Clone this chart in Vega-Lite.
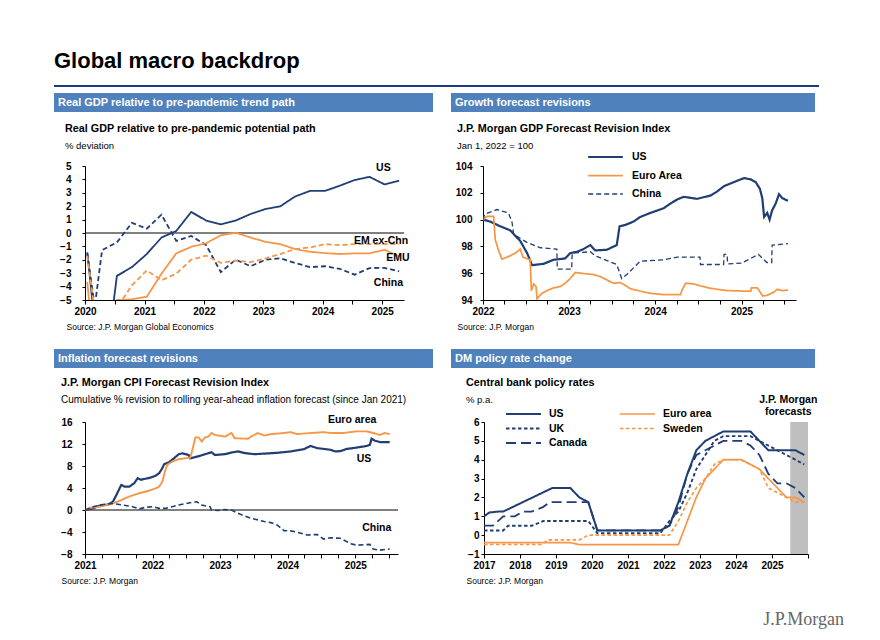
{
"$schema": "https://vega.github.io/schema/vega-lite/v6.json",
"background": "white",
"padding": {"left": 53, "top": 50, "right": 4, "bottom": 4},
"config": {
  "font": "Liberation Sans",
  "view": {"stroke": null},
  "axis": {"labelFontWeight": "bold", "labelFontSize": 10, "labelColor": "#000", "domainColor": "#000", "tickColor": "#000", "grid": false, "titleFontWeight": "normal", "titleFontSize": 8.5, "titleColor": "#000", "labelFlush": false, "labelOverlap": false},
  "title": {"anchor": "start", "frame": "group", "color": "#000", "fontSize": 10.8, "fontWeight": "bold", "subtitleFontSize": 9.5, "subtitleColor": "#000", "subtitlePadding": 7},
  "legend": {"labelColor": "#000"}
},
"title": {"text": "Global macro backdrop", "fontSize": 22, "offset": 12, "frame": "bounds"},
"datasets": {
  "gdp": [
    {"series":"US","date":"2020-01-15","value":-1.45},{"series":"US","date":"2020-04-15","value":-12},{"series":"US","date":"2020-07-15","value":-3.2},{"series":"US","date":"2020-10-15","value":-2.55},
    {"series":"US","date":"2021-01-15","value":-1.57},{"series":"US","date":"2021-04-15","value":-0.34},{"series":"US","date":"2021-07-15","value":0.15},{"series":"US","date":"2021-10-15","value":1.57},
    {"series":"US","date":"2022-01-15","value":0.93},{"series":"US","date":"2022-04-15","value":0.64},{"series":"US","date":"2022-07-15","value":0.93},{"series":"US","date":"2022-10-15","value":1.42},
    {"series":"US","date":"2023-01-15","value":1.79},{"series":"US","date":"2023-04-15","value":1.99},{"series":"US","date":"2023-07-15","value":2.72},{"series":"US","date":"2023-10-15","value":3.14},
    {"series":"US","date":"2024-01-15","value":3.14},{"series":"US","date":"2024-04-15","value":3.53},{"series":"US","date":"2024-07-15","value":3.95},{"series":"US","date":"2024-10-15","value":4.19},
    {"series":"US","date":"2025-01-15","value":3.63},{"series":"US","date":"2025-04-15","value":3.9},
    {"series":"China","date":"2020-01-15","value":-1.5},{"series":"China","date":"2020-03-01","value":-5.5},{"series":"China","date":"2020-04-15","value":-1.27},{"series":"China","date":"2020-07-15","value":-0.71},{"series":"China","date":"2020-10-15","value":0.76},
    {"series":"China","date":"2021-01-15","value":0.32},{"series":"China","date":"2021-04-15","value":1.37},{"series":"China","date":"2021-07-15","value":-0.59},{"series":"China","date":"2021-10-15","value":-0.22},
    {"series":"China","date":"2022-01-15","value":-0.91},{"series":"China","date":"2022-04-15","value":-2.92},{"series":"China","date":"2022-07-15","value":-1.99},{"series":"China","date":"2022-10-15","value":-2.48},
    {"series":"China","date":"2023-01-15","value":-1.99},{"series":"China","date":"2023-04-15","value":-1.89},{"series":"China","date":"2023-07-15","value":-2.23},{"series":"China","date":"2023-10-15","value":-2.55},
    {"series":"China","date":"2024-01-15","value":-2.48},{"series":"China","date":"2024-04-15","value":-2.67},{"series":"China","date":"2024-07-15","value":-3.11},{"series":"China","date":"2024-10-15","value":-2.62},
    {"series":"China","date":"2025-01-15","value":-2.6},{"series":"China","date":"2025-04-15","value":-2.87},
    {"series":"EMU","date":"2020-01-15","value":-3.65},{"series":"EMU","date":"2020-04-15","value":-15},{"series":"EMU","date":"2020-07-15","value":-5.0},{"series":"EMU","date":"2020-10-15","value":-4.95},
    {"series":"EMU","date":"2021-01-15","value":-4.75},{"series":"EMU","date":"2021-04-15","value":-3.04},{"series":"EMU","date":"2021-07-15","value":-1.52},{"series":"EMU","date":"2021-10-15","value":-1.03},
    {"series":"EMU","date":"2022-01-15","value":-0.76},{"series":"EMU","date":"2022-04-15","value":-0.17},{"series":"EMU","date":"2022-07-15","value":0.02},{"series":"EMU","date":"2022-10-15","value":-0.34},
    {"series":"EMU","date":"2023-01-15","value":-0.66},{"series":"EMU","date":"2023-04-15","value":-0.83},{"series":"EMU","date":"2023-07-15","value":-1.2},{"series":"EMU","date":"2023-10-15","value":-1.4},
    {"series":"EMU","date":"2024-01-15","value":-1.5},{"series":"EMU","date":"2024-04-15","value":-1.57},{"series":"EMU","date":"2024-07-15","value":-1.52},{"series":"EMU","date":"2024-10-15","value":-1.52},
    {"series":"EMU","date":"2025-01-15","value":-1.25},{"series":"EMU","date":"2025-04-15","value":-1.74},
    {"series":"EM ex-Chn","date":"2020-01-15","value":-1.7},{"series":"EM ex-Chn","date":"2020-04-15","value":-10},{"series":"EM ex-Chn","date":"2020-07-15","value":-5.6},{"series":"EM ex-Chn","date":"2020-10-15","value":-3.9},
    {"series":"EM ex-Chn","date":"2021-01-15","value":-2.79},{"series":"EM ex-Chn","date":"2021-04-15","value":-3.53},{"series":"EM ex-Chn","date":"2021-07-15","value":-3.04},{"series":"EM ex-Chn","date":"2021-10-15","value":-1.99},
    {"series":"EM ex-Chn","date":"2022-01-15","value":-1.69},{"series":"EM ex-Chn","date":"2022-04-15","value":-2.23},{"series":"EM ex-Chn","date":"2022-07-15","value":-2.06},{"series":"EM ex-Chn","date":"2022-10-15","value":-2.18},
    {"series":"EM ex-Chn","date":"2023-01-15","value":-1.89},{"series":"EM ex-Chn","date":"2023-04-15","value":-1.57},{"series":"EM ex-Chn","date":"2023-07-15","value":-1.2},{"series":"EM ex-Chn","date":"2023-10-15","value":-1.08},
    {"series":"EM ex-Chn","date":"2024-01-15","value":-0.83},{"series":"EM ex-Chn","date":"2024-04-15","value":-0.91},{"series":"EM ex-Chn","date":"2024-07-15","value":-0.83},{"series":"EM ex-Chn","date":"2024-10-15","value":-0.83},
    {"series":"EM ex-Chn","date":"2025-01-15","value":-0.83},{"series":"EM ex-Chn","date":"2025-04-15","value":-0.83}
  ],
  "gdpLab": [
    {"label":"US","date":"2025-01-08","value":4.87},
    {"label":"EM ex-Chn","date":"2024-12-25","value":-0.57},
    {"label":"EMU","date":"2025-04-08","value":-1.9},
    {"label":"China","date":"2025-02-08","value":-3.74}
  ],
  "growth": [
    {"series":"US","date":"2022-01-01","value":100.0},{"series":"US","date":"2022-02-01","value":99.85},{"series":"US","date":"2022-03-15","value":99.5},{"series":"US","date":"2022-04-26","value":99.2},
    {"series":"US","date":"2022-06-08","value":98.4},{"series":"US","date":"2022-07-07","value":97.5},{"series":"US","date":"2022-07-28","value":96.6},{"series":"US","date":"2022-09-15","value":96.7},
    {"series":"US","date":"2022-10-27","value":97.0},{"series":"US","date":"2022-12-15","value":97.1},{"series":"US","date":"2023-01-06","value":97.5},{"series":"US","date":"2023-02-03","value":97.6},
    {"series":"US","date":"2023-03-03","value":97.8},{"series":"US","date":"2023-04-01","value":98.1},{"series":"US","date":"2023-04-22","value":97.7},{"series":"US","date":"2023-06-10","value":97.75},
    {"series":"US","date":"2023-07-22","value":98.1},{"series":"US","date":"2023-08-03","value":99.5},{"series":"US","date":"2023-08-27","value":99.6},{"series":"US","date":"2023-10-01","value":99.85},
    {"series":"US","date":"2023-10-30","value":100.2},{"series":"US","date":"2023-12-12","value":100.5},{"series":"US","date":"2024-02-06","value":100.85},{"series":"US","date":"2024-03-06","value":101.2},
    {"series":"US","date":"2024-04-03","value":101.5},{"series":"US","date":"2024-05-01","value":101.7},{"series":"US","date":"2024-06-27","value":101.55},{"series":"US","date":"2024-08-23","value":101.8},
    {"series":"US","date":"2024-09-20","value":102.1},{"series":"US","date":"2024-10-19","value":102.5},{"series":"US","date":"2024-12-14","value":102.9},{"series":"US","date":"2025-01-12","value":103.1},
    {"series":"US","date":"2025-02-09","value":103.0},{"series":"US","date":"2025-03-02","value":102.8},{"series":"US","date":"2025-03-20","value":102.3},{"series":"US","date":"2025-03-30","value":101.6},
    {"series":"US","date":"2025-04-07","value":100.2},{"series":"US","date":"2025-04-20","value":100.5},{"series":"US","date":"2025-04-30","value":100.0},{"series":"US","date":"2025-05-11","value":100.7},
    {"series":"US","date":"2025-05-26","value":101.2},{"series":"US","date":"2025-06-09","value":101.9},{"series":"US","date":"2025-06-23","value":101.6},{"series":"US","date":"2025-07-17","value":101.4},
    {"series":"Euro Area","date":"2022-01-01","value":100.0},{"series":"Euro Area","date":"2022-01-18","value":100.25},{"series":"Euro Area","date":"2022-02-15","value":100.25},{"series":"Euro Area","date":"2022-02-22","value":98.5},
    {"series":"Euro Area","date":"2022-03-08","value":97.7},{"series":"Euro Area","date":"2022-03-22","value":97.05},{"series":"Euro Area","date":"2022-04-26","value":97.3},{"series":"Euro Area","date":"2022-05-18","value":97.5},
    {"series":"Euro Area","date":"2022-06-08","value":97.8},{"series":"Euro Area","date":"2022-06-19","value":97.2},{"series":"Euro Area","date":"2022-07-20","value":97.0},{"series":"Euro Area","date":"2022-07-25","value":94.7},
    {"series":"Euro Area","date":"2022-08-04","value":95.2},{"series":"Euro Area","date":"2022-08-14","value":95.0},{"series":"Euro Area","date":"2022-08-18","value":94.1},{"series":"Euro Area","date":"2022-09-08","value":94.5},
    {"series":"Euro Area","date":"2022-09-29","value":94.7},{"series":"Euro Area","date":"2022-10-27","value":94.9},{"series":"Euro Area","date":"2022-11-24","value":95.0},{"series":"Euro Area","date":"2022-12-15","value":95.25},
    {"series":"Euro Area","date":"2023-01-06","value":95.6},{"series":"Euro Area","date":"2023-01-27","value":96.05},{"series":"Euro Area","date":"2023-03-17","value":95.95},{"series":"Euro Area","date":"2023-04-15","value":95.9},
    {"series":"Euro Area","date":"2023-05-13","value":95.75},{"series":"Euro Area","date":"2023-06-10","value":95.5},{"series":"Euro Area","date":"2023-07-08","value":95.25},{"series":"Euro Area","date":"2023-08-06","value":95.3},
    {"series":"Euro Area","date":"2023-08-27","value":95.1},{"series":"Euro Area","date":"2023-09-17","value":94.85},{"series":"Euro Area","date":"2023-11-13","value":94.6},{"series":"Euro Area","date":"2023-12-12","value":94.5},
    {"series":"Euro Area","date":"2024-02-06","value":94.4},{"series":"Euro Area","date":"2024-04-17","value":94.4},{"series":"Euro Area","date":"2024-04-24","value":94.75},{"series":"Euro Area","date":"2024-05-09","value":95.25},
    {"series":"Euro Area","date":"2024-06-13","value":95.2},{"series":"Euro Area","date":"2024-07-11","value":95.05},{"series":"Euro Area","date":"2024-08-23","value":94.87},{"series":"Euro Area","date":"2024-11-02","value":94.7},
    {"series":"Euro Area","date":"2025-02-09","value":94.65},{"series":"Euro Area","date":"2025-02-12","value":94.9},{"series":"Euro Area","date":"2025-03-09","value":94.9},{"series":"Euro Area","date":"2025-04-01","value":94.3},
    {"series":"Euro Area","date":"2025-04-20","value":94.35},{"series":"Euro Area","date":"2025-05-19","value":94.6},{"series":"Euro Area","date":"2025-06-02","value":94.8},{"series":"Euro Area","date":"2025-06-23","value":94.7},
    {"series":"Euro Area","date":"2025-07-17","value":94.75},
    {"series":"China","date":"2022-01-01","value":100.0},{"series":"China","date":"2022-01-08","value":100.4},{"series":"China","date":"2022-03-01","value":100.75},{"series":"China","date":"2022-04-19","value":100.5},
    {"series":"China","date":"2022-05-04","value":99.8},{"series":"China","date":"2022-05-11","value":98.9},{"series":"China","date":"2022-07-06","value":98.3},{"series":"China","date":"2022-09-01","value":97.9},
    {"series":"China","date":"2022-11-10","value":97.8},{"series":"China","date":"2022-11-12","value":96.3},{"series":"China","date":"2023-01-12","value":96.3},{"series":"China","date":"2023-01-14","value":97.5},
    {"series":"China","date":"2023-04-01","value":97.6},{"series":"China","date":"2023-04-22","value":97.3},{"series":"China","date":"2023-06-17","value":96.9},{"series":"China","date":"2023-07-22","value":96.65},
    {"series":"China","date":"2023-08-12","value":95.6},{"series":"China","date":"2023-09-03","value":95.9},{"series":"China","date":"2023-10-01","value":96.4},{"series":"China","date":"2023-10-30","value":96.9},
    {"series":"China","date":"2024-02-06","value":97.0},{"series":"China","date":"2024-04-03","value":97.2},{"series":"China","date":"2024-07-09","value":97.2},{"series":"China","date":"2024-07-11","value":96.65},
    {"series":"China","date":"2024-10-17","value":96.65},{"series":"China","date":"2024-10-19","value":97.4},{"series":"China","date":"2024-11-01","value":97.4},{"series":"China","date":"2024-11-03","value":96.7},
    {"series":"China","date":"2025-01-01","value":96.75},{"series":"China","date":"2025-03-14","value":97.4},{"series":"China","date":"2025-04-18","value":96.8},{"series":"China","date":"2025-05-09","value":96.8},
    {"series":"China","date":"2025-05-11","value":98.1},{"series":"China","date":"2025-07-17","value":98.2}
  ],
  "cpi": [
    {"series":"US","date":"2021-01-01","value":0},{"series":"US","date":"2021-02-14","value":0.3},{"series":"US","date":"2021-03-21","value":0.8},{"series":"US","date":"2021-05-05","value":1.0},
    {"series":"US","date":"2021-06-01","value":1.5},{"series":"US","date":"2021-06-19","value":2.7},{"series":"US","date":"2021-07-16","value":4.55},{"series":"US","date":"2021-08-03","value":4.25},
    {"series":"US","date":"2021-08-29","value":4.25},{"series":"US","date":"2021-09-25","value":4.9},{"series":"US","date":"2021-10-13","value":5.8},{"series":"US","date":"2021-10-30","value":5.5},
    {"series":"US","date":"2021-12-23","value":5.9},{"series":"US","date":"2022-01-19","value":6.25},{"series":"US","date":"2022-02-06","value":6.7},{"series":"US","date":"2022-02-23","value":7.6},
    {"series":"US","date":"2022-03-04","value":8.3},{"series":"US","date":"2022-03-31","value":8.7},{"series":"US","date":"2022-04-27","value":9.4},{"series":"US","date":"2022-05-23","value":10.15},
    {"series":"US","date":"2022-06-10","value":10.3},{"series":"US","date":"2022-07-15","value":10.0},{"series":"US","date":"2022-07-24","value":9.4},{"series":"US","date":"2022-08-11","value":9.55},
    {"series":"US","date":"2022-09-15","value":9.85},{"series":"US","date":"2022-10-12","value":10.15},{"series":"US","date":"2022-11-16","value":10.5},{"series":"US","date":"2022-12-04","value":10.0},
    {"series":"US","date":"2023-01-27","value":10.15},{"series":"US","date":"2023-03-04","value":10.45},{"series":"US","date":"2023-04-08","value":10.65},{"series":"US","date":"2023-05-14","value":10.35},
    {"series":"US","date":"2023-07-06","value":10.15},{"series":"US","date":"2023-08-28","value":10.25},{"series":"US","date":"2023-11-07","value":10.4},{"series":"US","date":"2024-01-18","value":10.65},
    {"series":"US","date":"2024-03-29","value":11.05},{"series":"US","date":"2024-05-04","value":11.65},{"series":"US","date":"2024-06-09","value":11.25},{"series":"US","date":"2024-08-19","value":10.95},
    {"series":"US","date":"2024-09-15","value":10.65},{"series":"US","date":"2024-10-12","value":10.7},{"series":"US","date":"2024-11-16","value":11.1},{"series":"US","date":"2025-01-09","value":11.35},
    {"series":"US","date":"2025-03-04","value":11.65},{"series":"US","date":"2025-03-21","value":11.85},{"series":"US","date":"2025-03-30","value":12.95},{"series":"US","date":"2025-04-17","value":12.6},
    {"series":"US","date":"2025-05-14","value":12.35},{"series":"US","date":"2025-07-06","value":12.35},
    {"series":"Euro area","date":"2021-01-01","value":0},{"series":"Euro area","date":"2021-01-27","value":0.4},{"series":"Euro area","date":"2021-03-21","value":0.6},{"series":"Euro area","date":"2021-05-14","value":1.0},
    {"series":"Euro area","date":"2021-07-06","value":1.65},{"series":"Euro area","date":"2021-08-28","value":2.45},{"series":"Euro area","date":"2021-10-21","value":3.05},{"series":"Euro area","date":"2021-12-13","value":3.5},
    {"series":"Euro area","date":"2022-01-19","value":3.95},{"series":"Euro area","date":"2022-02-06","value":4.25},{"series":"Euro area","date":"2022-02-23","value":5.15},{"series":"Euro area","date":"2022-03-09","value":7.0},
    {"series":"Euro area","date":"2022-03-21","value":8.2},{"series":"Euro area","date":"2022-04-17","value":8.8},{"series":"Euro area","date":"2022-05-23","value":9.25},{"series":"Euro area","date":"2022-06-28","value":9.4},
    {"series":"Euro area","date":"2022-07-24","value":9.55},{"series":"Euro area","date":"2022-08-02","value":10.6},{"series":"Euro area","date":"2022-08-11","value":11.85},{"series":"Euro area","date":"2022-08-20","value":13.2},
    {"series":"Euro area","date":"2022-09-07","value":13.2},{"series":"Euro area","date":"2022-09-24","value":12.45},{"series":"Euro area","date":"2022-10-12","value":13.2},{"series":"Euro area","date":"2022-10-30","value":13.35},
    {"series":"Euro area","date":"2022-11-16","value":14.0},{"series":"Euro area","date":"2022-12-04","value":13.65},{"series":"Euro area","date":"2023-01-27","value":13.35},{"series":"Euro area","date":"2023-03-04","value":14.0},
    {"series":"Euro area","date":"2023-03-21","value":13.05},{"series":"Euro area","date":"2023-06-01","value":12.95},{"series":"Euro area","date":"2023-06-18","value":13.35},{"series":"Euro area","date":"2023-07-24","value":14.0},
    {"series":"Euro area","date":"2023-08-28","value":13.55},{"series":"Euro area","date":"2023-10-03","value":13.8},{"series":"Euro area","date":"2023-12-13","value":14.0},{"series":"Euro area","date":"2024-01-18","value":14.15},
    {"series":"Euro area","date":"2024-02-22","value":13.8},{"series":"Euro area","date":"2024-05-04","value":14.0},{"series":"Euro area","date":"2024-07-14","value":14.15},{"series":"Euro area","date":"2024-08-19","value":14.0},
    {"series":"Euro area","date":"2024-10-30","value":14.0},{"series":"Euro area","date":"2025-01-09","value":14.3},{"series":"Euro area","date":"2025-03-04","value":14.3},{"series":"Euro area","date":"2025-04-08","value":14.0},
    {"series":"Euro area","date":"2025-05-14","value":13.65},{"series":"Euro area","date":"2025-06-09","value":14.0},{"series":"Euro area","date":"2025-07-06","value":13.8},
    {"series":"China","date":"2021-01-01","value":0},{"series":"China","date":"2021-02-14","value":0.6},{"series":"China","date":"2021-04-08","value":1.0},{"series":"China","date":"2021-06-01","value":1.2},
    {"series":"China","date":"2021-07-24","value":0.9},{"series":"China","date":"2021-09-16","value":0.6},{"series":"China","date":"2021-10-21","value":0.2},{"series":"China","date":"2021-11-26","value":0.5},
    {"series":"China","date":"2022-01-01","value":0.6},{"series":"China","date":"2022-02-06","value":0.3},{"series":"China","date":"2022-03-13","value":0.3},{"series":"China","date":"2022-04-17","value":0.6},
    {"series":"China","date":"2022-05-23","value":0.9},{"series":"China","date":"2022-06-28","value":1.15},{"series":"China","date":"2022-08-02","value":1.4},{"series":"China","date":"2022-08-29","value":1.5},
    {"series":"China","date":"2022-09-24","value":0.9},{"series":"China","date":"2022-11-08","value":0.6},{"series":"China","date":"2022-11-16","value":0.0},{"series":"China","date":"2022-12-22","value":-0.1},
    {"series":"China","date":"2023-01-27","value":0.1},{"series":"China","date":"2023-03-04","value":0.0},{"series":"China","date":"2023-04-08","value":-0.6},{"series":"China","date":"2023-05-14","value":-1.1},
    {"series":"China","date":"2023-06-18","value":-1.5},{"series":"China","date":"2023-07-24","value":-1.8},{"series":"China","date":"2023-08-28","value":-2.1},{"series":"China","date":"2023-10-03","value":-2.3},
    {"series":"China","date":"2023-11-07","value":-2.75},{"series":"China","date":"2023-12-13","value":-3.75},{"series":"China","date":"2024-01-18","value":-3.8},{"series":"China","date":"2024-02-22","value":-4.05},
    {"series":"China","date":"2024-04-16","value":-4.55},{"series":"China","date":"2024-06-09","value":-4.45},{"series":"China","date":"2024-07-14","value":-5.3},{"series":"China","date":"2024-08-19","value":-5.05},
    {"series":"China","date":"2024-10-12","value":-5.15},{"series":"China","date":"2024-10-30","value":-5.45},{"series":"China","date":"2024-12-05","value":-6.1},{"series":"China","date":"2025-01-09","value":-6.4},
    {"series":"China","date":"2025-03-21","value":-6.25},{"series":"China","date":"2025-04-08","value":-7.1},{"series":"China","date":"2025-05-14","value":-7.3},{"series":"China","date":"2025-06-18","value":-7.15},
    {"series":"China","date":"2025-07-06","value":-7.1}
  ],
  "cpiLab": [
    {"label":"Euro area","date":"2024-12-15","value":16.35},
    {"label":"US","date":"2025-02-17","value":9.2},
    {"label":"China","date":"2025-04-27","value":-3.24}
  ],
  "rates": [
    {"series":"US","date":"2017-01-01","value":1.0},{"series":"US","date":"2017-02-25","value":1.2},{"series":"US","date":"2017-05-27","value":1.25},{"series":"US","date":"2017-07-15","value":1.25},
    {"series":"US","date":"2018-11-25","value":2.5},{"series":"US","date":"2019-05-27","value":2.5},{"series":"US","date":"2019-08-26","value":2.0},{"series":"US","date":"2019-11-25","value":1.75},
    {"series":"US","date":"2020-02-25","value":0.25},{"series":"US","date":"2021-11-25","value":0.25},{"series":"US","date":"2022-02-25","value":0.5},{"series":"US","date":"2022-05-27","value":1.75},
    {"series":"US","date":"2022-08-26","value":3.25},{"series":"US","date":"2022-11-25","value":4.5},{"series":"US","date":"2023-02-25","value":5.0},{"series":"US","date":"2023-05-27","value":5.25},
    {"series":"US","date":"2023-08-26","value":5.5},{"series":"US","date":"2024-05-27","value":5.5},{"series":"US","date":"2024-08-26","value":5.0},{"series":"US","date":"2024-11-25","value":4.5},
    {"series":"US","date":"2025-08-26","value":4.5},{"series":"US","date":"2025-11-25","value":4.25},
    {"series":"UK","date":"2017-01-01","value":0.25},{"series":"UK","date":"2017-07-15","value":0.25},{"series":"UK","date":"2017-09-01","value":0.5},{"series":"UK","date":"2018-05-01","value":0.5},
    {"series":"UK","date":"2018-08-26","value":0.75},{"series":"UK","date":"2019-11-25","value":0.75},{"series":"UK","date":"2020-02-25","value":0.1},{"series":"UK","date":"2021-11-25","value":0.1},
    {"series":"UK","date":"2022-02-25","value":0.75},{"series":"UK","date":"2022-05-27","value":1.25},{"series":"UK","date":"2022-08-26","value":2.25},{"series":"UK","date":"2022-11-25","value":3.5},
    {"series":"UK","date":"2023-02-25","value":4.25},{"series":"UK","date":"2023-05-27","value":5.0},{"series":"UK","date":"2023-08-26","value":5.25},{"series":"UK","date":"2024-05-27","value":5.25},
    {"series":"UK","date":"2024-08-26","value":5.0},{"series":"UK","date":"2024-11-25","value":4.75},{"series":"UK","date":"2025-02-25","value":4.5},{"series":"UK","date":"2025-05-27","value":4.25},
    {"series":"UK","date":"2025-08-26","value":4.0},{"series":"UK","date":"2025-11-25","value":3.75},
    {"series":"Canada","date":"2017-01-01","value":0.5},{"series":"Canada","date":"2017-04-01","value":0.5},{"series":"Canada","date":"2017-07-15","value":1.0},{"series":"Canada","date":"2017-11-10","value":1.0},
    {"series":"Canada","date":"2018-02-01","value":1.25},{"series":"Canada","date":"2018-05-01","value":1.25},{"series":"Canada","date":"2018-08-26","value":1.5},{"series":"Canada","date":"2018-11-01","value":1.75},
    {"series":"Canada","date":"2019-11-25","value":1.75},{"series":"Canada","date":"2020-02-25","value":0.25},{"series":"Canada","date":"2021-11-25","value":0.25},{"series":"Canada","date":"2022-02-25","value":0.5},
    {"series":"Canada","date":"2022-05-27","value":1.5},{"series":"Canada","date":"2022-08-26","value":3.25},{"series":"Canada","date":"2022-11-25","value":4.25},{"series":"Canada","date":"2023-02-25","value":4.5},
    {"series":"Canada","date":"2023-05-27","value":4.75},{"series":"Canada","date":"2023-08-26","value":5.0},{"series":"Canada","date":"2024-02-25","value":5.0},{"series":"Canada","date":"2024-05-27","value":4.75},
    {"series":"Canada","date":"2024-08-26","value":4.25},{"series":"Canada","date":"2024-11-25","value":3.25},{"series":"Canada","date":"2025-02-25","value":2.75},{"series":"Canada","date":"2025-05-27","value":2.75},
    {"series":"Canada","date":"2025-08-26","value":2.5},{"series":"Canada","date":"2025-11-25","value":2.0},
    {"series":"Euro area","date":"2017-01-01","value":-0.4},{"series":"Euro area","date":"2019-05-27","value":-0.4},{"series":"Euro area","date":"2019-08-26","value":-0.5},{"series":"Euro area","date":"2022-05-27","value":-0.5},
    {"series":"Euro area","date":"2022-08-26","value":0.75},{"series":"Euro area","date":"2022-11-25","value":2.0},{"series":"Euro area","date":"2023-02-25","value":3.0},{"series":"Euro area","date":"2023-05-27","value":3.5},
    {"series":"Euro area","date":"2023-08-26","value":4.0},{"series":"Euro area","date":"2024-02-25","value":4.0},{"series":"Euro area","date":"2024-05-27","value":3.75},{"series":"Euro area","date":"2024-08-26","value":3.5},
    {"series":"Euro area","date":"2024-11-25","value":3.0},{"series":"Euro area","date":"2025-02-25","value":2.5},{"series":"Euro area","date":"2025-05-27","value":2.0},{"series":"Euro area","date":"2025-08-26","value":2.0},
    {"series":"Euro area","date":"2025-11-25","value":1.75},
    {"series":"Sweden","date":"2017-01-01","value":-0.5},{"series":"Sweden","date":"2018-08-01","value":-0.5},{"series":"Sweden","date":"2018-10-15","value":-0.25},{"series":"Sweden","date":"2019-08-26","value":-0.25},
    {"series":"Sweden","date":"2019-11-25","value":0.0},{"series":"Sweden","date":"2022-02-25","value":0.0},{"series":"Sweden","date":"2022-05-27","value":0.75},{"series":"Sweden","date":"2022-08-26","value":1.75},
    {"series":"Sweden","date":"2022-11-25","value":2.5},{"series":"Sweden","date":"2023-02-25","value":3.0},{"series":"Sweden","date":"2023-05-27","value":3.75},{"series":"Sweden","date":"2023-08-26","value":4.0},
    {"series":"Sweden","date":"2024-02-25","value":4.0},{"series":"Sweden","date":"2024-05-27","value":3.75},{"series":"Sweden","date":"2024-08-26","value":3.5},{"series":"Sweden","date":"2024-11-25","value":2.5},
    {"series":"Sweden","date":"2025-02-25","value":2.25},{"series":"Sweden","date":"2025-05-27","value":2.0},{"series":"Sweden","date":"2025-08-26","value":1.75},{"series":"Sweden","date":"2025-11-25","value":1.75}
  ],
  "band": [{"date":"2025-07-05","end":"2026-01-01"}],
  "fcLab": [{"label":["J.P. Morgan","forecasts"],"date":"2025-06-15","value":6}]
},
"spacing": 6,
"resolve": {"scale": {"color": "independent", "strokeDash": "independent", "strokeWidth": "independent"}, "legend": {"color": "independent", "strokeDash": "independent", "strokeWidth": "independent"}},
"vconcat": [
  {"width": 734, "height": 2, "data": {"values": [{}]},
   "mark": {"type": "rect", "color": "#1f3a85"},
   "encoding": {"x": {"datum": 0, "type": "quantitative", "scale": {"domain": [0.040523, 1], "nice": false, "zero": false}, "axis": null}, "x2": {"datum": 1}}},
  {"spacing": 18,
   "resolve": {"scale": {"color": "independent", "strokeDash": "independent", "strokeWidth": "independent"}, "legend": {"color": "independent", "strokeDash": "independent", "strokeWidth": "independent"}},
   "vconcat": [
    {"spacing": 10,
     "resolve": {"scale": {"color": "independent", "strokeDash": "independent", "strokeWidth": "independent"}, "legend": {"color": "independent", "strokeDash": "independent", "strokeWidth": "independent"}},
     "vconcat": [
      {"spacing": 17, "hconcat": [
        {"width": 348, "height": 19, "data": {"values": [{}]},
         "title": {"text": "Real GDP relative to pre-pandemic trend path", "color": "white", "fontSize": 11, "fontWeight": "bold", "anchor": "start", "dx": -27, "offset": -15},
         "mark": {"type": "rect", "color": "#4f81bd"},
         "encoding": {"x": {"datum": 0, "type": "quantitative", "scale": {"domain": [0.081794, 1], "nice": false, "zero": false}, "axis": null}, "x2": {"datum": 1}}},
        {"width": 329, "height": 19, "data": {"values": [{}]},
         "title": {"text": "Growth forecast revisions", "color": "white", "fontSize": 11, "fontWeight": "bold", "anchor": "start", "dx": -31, "offset": -15},
         "mark": {"type": "rect", "color": "#4f81bd"},
         "encoding": {"x": {"datum": 0, "type": "quantitative", "scale": {"domain": [0.096154, 1], "nice": false, "zero": false}, "axis": null}, "x2": {"datum": 1}}}
      ]},
      {"spacing": 45,
       "resolve": {"scale": {"color": "independent", "strokeDash": "independent", "strokeWidth": "independent"}, "legend": {"color": "independent", "strokeDash": "independent", "strokeWidth": "independent"}},
       "hconcat": [
        {"width": 319, "height": 134,
         "title": {"text": "Real GDP relative to pre-pandemic potential path", "subtitle": "% deviation", "dx": -20, "offset": 11},
         "layer": [
           {"data": {"values": [{}]}, "mark": {"type": "rule", "color": "#000", "strokeWidth": 1},
            "encoding": {"y": {"datum": 0, "type": "quantitative", "scale": {"domain": [-5, 5]},
                    "axis": {"values": [-5,-4,-3,-2,-1,0,1,2,3,4,5], "tickSize": 3, "labelPadding": 11, "labelOverlap": false, "labelFlush": false, "title": null}}}},
           {"data": {"name": "gdp"}, "mark": {"type": "line", "clip": true, "strokeWidth": 1.8},
            "encoding": {
              "x": {"field": "date", "type": "temporal", "scale": {"domain": ["2020-01-01", "2025-05-15"]},
                    "axis": {"values": [{"year":2020,"month":1,"date":1},{"year":2020,"month":7,"date":1},{"year":2021,"month":1,"date":1},{"year":2021,"month":7,"date":1},{"year":2022,"month":1,"date":1},{"year":2022,"month":7,"date":1},{"year":2023,"month":1,"date":1},{"year":2023,"month":7,"date":1},{"year":2024,"month":1,"date":1},{"year":2024,"month":7,"date":1},{"year":2025,"month":1,"date":1}],
                             "labelExpr": "month(datum.value) == 0 ? timeFormat(datum.value, '%Y') : ''", "tickSize": 4, "labelPadding": 2, "labelOverlap": false, "labelFlush": false,
                             "title": "Source: J.P. Morgan Global Economics", "titleX": -19, "titleAlign": "left", "titleAnchor": "start", "titlePadding": 6}},
              "y": {"field": "value", "type": "quantitative", "scale": {"domain": [-5, 5]},
                    "axis": {"values": [-5,-4,-3,-2,-1,0,1,2,3,4,5], "tickSize": 3, "labelPadding": 11, "labelOverlap": false, "labelFlush": false, "title": null}},
              "color": {"field": "series", "type": "nominal", "scale": {"domain": ["US","China","EMU","EM ex-Chn"], "range": ["#203e73","#203e73","#f79646","#f79646"]}, "legend": null},
              "strokeDash": {"field": "series", "type": "nominal", "scale": {"domain": ["US","China","EMU","EM ex-Chn"], "range": [[1,0],[5,3],[1,0],[5,3]]}, "legend": null}
            }},
           {"data": {"name": "gdpLab"}, "mark": {"type": "text", "fontWeight": "bold", "fontSize": 10.5, "color": "#000"},
            "encoding": {
              "x": {"field": "date", "type": "temporal", "scale": {"domain": ["2020-01-01", "2025-05-15"]},
                    "axis": {"values": [{"year":2020,"month":1,"date":1},{"year":2020,"month":7,"date":1},{"year":2021,"month":1,"date":1},{"year":2021,"month":7,"date":1},{"year":2022,"month":1,"date":1},{"year":2022,"month":7,"date":1},{"year":2023,"month":1,"date":1},{"year":2023,"month":7,"date":1},{"year":2024,"month":1,"date":1},{"year":2024,"month":7,"date":1},{"year":2025,"month":1,"date":1}],
                             "labelExpr": "month(datum.value) == 0 ? timeFormat(datum.value, '%Y') : ''", "tickSize": 4, "labelPadding": 2, "labelOverlap": false, "labelFlush": false,
                             "title": "Source: J.P. Morgan Global Economics", "titleX": -19, "titleAlign": "left", "titleAnchor": "start", "titlePadding": 6}},
              "y": {"field": "value", "type": "quantitative", "scale": {"domain": [-5, 5]},
                    "axis": {"values": [-5,-4,-3,-2,-1,0,1,2,3,4,5], "tickSize": 3, "labelPadding": 11, "labelOverlap": false, "labelFlush": false, "title": null}},
              "text": {"field": "label"}
            }}
         ]},
        {"width": 313, "height": 134,
         "title": {"text": "J.P. Morgan GDP Forecast Revision Index", "subtitle": "Jan 1, 2022 = 100", "dx": -26, "offset": 0},
         "data": {"name": "growth"},
         "mark": {"type": "line", "clip": true},
         "encoding": {
           "x": {"field": "date", "type": "temporal", "scale": {"domain": ["2022-01-01", "2025-08-20"]},
                 "axis": {"values": [{"year":2022,"month":1,"date":1},{"year":2022,"month":4,"date":1},{"year":2022,"month":7,"date":1},{"year":2022,"month":10,"date":1},{"year":2023,"month":1,"date":1},{"year":2023,"month":4,"date":1},{"year":2023,"month":7,"date":1},{"year":2023,"month":10,"date":1},{"year":2024,"month":1,"date":1},{"year":2024,"month":4,"date":1},{"year":2024,"month":7,"date":1},{"year":2024,"month":10,"date":1},{"year":2025,"month":1,"date":1},{"year":2025,"month":4,"date":1},{"year":2025,"month":7,"date":1}],
                          "labelExpr": "month(datum.value) == 0 ? timeFormat(datum.value, '%Y') : ''", "tickSize": 4, "labelPadding": 2, "labelOverlap": false, "labelFlush": false,
                          "title": "Source: J.P. Morgan", "titleX": -26, "titleAlign": "left", "titleAnchor": "start", "titlePadding": 6}},
           "y": {"field": "value", "type": "quantitative", "scale": {"domain": [94, 104]},
                 "axis": {"values": [94,96,98,100,102,104], "tickSize": 3, "labelPadding": 8, "labelOverlap": false, "labelFlush": false, "title": null}},
           "color": {"field": "series", "type": "nominal", "scale": {"domain": ["US","Euro Area","China"], "range": ["#203e73","#f79646","#203e73"]},
                     "legend": {"orient": "none", "legendX": 104, "legendY": -16, "title": null, "symbolType": "stroke", "symbolSize": 1200, "clipHeight": 14, "rowPadding": 4.5, "labelFontSize": 10.5, "labelFontWeight": "bold", "labelOffset": 8, "padding": 0}},
           "strokeDash": {"field": "series", "type": "nominal", "scale": {"domain": ["US","Euro Area","China"], "range": [[1,0],[1,0],[5,3]]},
                     "legend": {"orient": "none", "legendX": 104, "legendY": -16, "title": null, "symbolType": "stroke", "symbolSize": 1200, "clipHeight": 14, "rowPadding": 4.5, "labelFontSize": 10.5, "labelFontWeight": "bold", "labelOffset": 8, "padding": 0}},
           "strokeWidth": {"field": "series", "type": "nominal", "scale": {"domain": ["US","Euro Area","China"], "range": [2.2, 1.3, 1.8]},
                     "legend": {"orient": "none", "legendX": 104, "legendY": -16, "title": null, "symbolType": "stroke", "symbolSize": 1200, "clipHeight": 14, "rowPadding": 4.5, "labelFontSize": 10.5, "labelFontWeight": "bold", "labelOffset": 8, "padding": 0}}
         }}
      ]}
    ]},
    {"spacing": 8,
     "resolve": {"scale": {"color": "independent", "strokeDash": "independent", "strokeWidth": "independent"}, "legend": {"color": "independent", "strokeDash": "independent", "strokeWidth": "independent"}},
     "vconcat": [
      {"spacing": 17, "hconcat": [
        {"width": 348, "height": 19, "data": {"values": [{}]},
         "title": {"text": "Inflation forecast revisions", "color": "white", "fontSize": 11, "fontWeight": "bold", "anchor": "start", "dx": -27, "offset": -15},
         "mark": {"type": "rect", "color": "#4f81bd"},
         "encoding": {"x": {"datum": 0, "type": "quantitative", "scale": {"domain": [0.081794, 1], "nice": false, "zero": false}, "axis": null}, "x2": {"datum": 1}}},
        {"width": 329, "height": 19, "data": {"values": [{}]},
         "title": {"text": "DM policy rate change", "color": "white", "fontSize": 11, "fontWeight": "bold", "anchor": "start", "dx": -31, "offset": -15},
         "mark": {"type": "rect", "color": "#4f81bd"},
         "encoding": {"x": {"datum": 0, "type": "quantitative", "scale": {"domain": [0.096154, 1], "nice": false, "zero": false}, "axis": null}, "x2": {"datum": 1}}}
      ]},
      {"spacing": 59,
       "resolve": {"scale": {"color": "independent", "strokeDash": "independent", "strokeWidth": "independent"}, "legend": {"color": "independent", "strokeDash": "independent", "strokeWidth": "independent"}},
       "hconcat": [
        {"width": 313, "height": 132,
         "title": {"text": "J.P. Morgan CPI Forecast Revision Index", "subtitle": "Cumulative % revision to rolling year-ahead inflation forecast (since Jan 2021)", "subtitleFontSize": 10, "dx": -24, "offset": 10},
         "layer": [
           {"data": {"values": [{}]}, "mark": {"type": "rule", "color": "#000", "strokeWidth": 1},
            "encoding": {"y": {"datum": 0, "type": "quantitative", "scale": {"domain": [-8, 16]},
                    "axis": {"values": [-8,-4,0,4,8,12,16], "tickSize": 3, "labelPadding": 10, "labelOverlap": false, "labelFlush": false, "title": null}}}},
           {"data": {"name": "cpi"}, "mark": {"type": "line", "clip": true},
            "encoding": {
              "x": {"field": "date", "type": "temporal", "scale": {"domain": ["2021-01-01", "2025-08-20"]},
                    "axis": {"values": [{"year":2021,"month":1,"date":1},{"year":2021,"month":4,"date":1},{"year":2021,"month":7,"date":1},{"year":2021,"month":10,"date":1},{"year":2022,"month":1,"date":1},{"year":2022,"month":4,"date":1},{"year":2022,"month":7,"date":1},{"year":2022,"month":10,"date":1},{"year":2023,"month":1,"date":1},{"year":2023,"month":4,"date":1},{"year":2023,"month":7,"date":1},{"year":2023,"month":10,"date":1},{"year":2024,"month":1,"date":1},{"year":2024,"month":4,"date":1},{"year":2024,"month":7,"date":1},{"year":2024,"month":10,"date":1},{"year":2025,"month":1,"date":1},{"year":2025,"month":4,"date":1},{"year":2025,"month":7,"date":1}],
                             "labelExpr": "month(datum.value) == 0 ? timeFormat(datum.value, '%Y') : ''", "tickSize": 4, "labelPadding": 2, "labelOverlap": false, "labelFlush": false,
                             "title": "Source: J.P. Morgan", "titleX": -24, "titleAlign": "left", "titleAnchor": "start", "titlePadding": 6}},
              "y": {"field": "value", "type": "quantitative", "scale": {"domain": [-8, 16]},
                    "axis": {"values": [-8,-4,0,4,8,12,16], "tickSize": 3, "labelPadding": 10, "labelOverlap": false, "labelFlush": false, "title": null}},
              "color": {"field": "series", "type": "nominal", "scale": {"domain": ["US","Euro area","China"], "range": ["#203e73","#f79646","#203e73"]}, "legend": null},
              "strokeDash": {"field": "series", "type": "nominal", "scale": {"domain": ["US","Euro area","China"], "range": [[1,0],[1,0],[5,3]]}, "legend": null},
              "strokeWidth": {"field": "series", "type": "nominal", "scale": {"domain": ["US","Euro area","China"], "range": [2.2, 1.6, 2.0]}, "legend": null}
            }},
           {"data": {"name": "cpiLab"}, "mark": {"type": "text", "fontWeight": "bold", "fontSize": 10.5, "color": "#000"},
            "encoding": {
              "x": {"field": "date", "type": "temporal", "scale": {"domain": ["2021-01-01", "2025-08-20"]},
                    "axis": {"values": [{"year":2021,"month":1,"date":1},{"year":2021,"month":4,"date":1},{"year":2021,"month":7,"date":1},{"year":2021,"month":10,"date":1},{"year":2022,"month":1,"date":1},{"year":2022,"month":4,"date":1},{"year":2022,"month":7,"date":1},{"year":2022,"month":10,"date":1},{"year":2023,"month":1,"date":1},{"year":2023,"month":4,"date":1},{"year":2023,"month":7,"date":1},{"year":2023,"month":10,"date":1},{"year":2024,"month":1,"date":1},{"year":2024,"month":4,"date":1},{"year":2024,"month":7,"date":1},{"year":2024,"month":10,"date":1},{"year":2025,"month":1,"date":1},{"year":2025,"month":4,"date":1},{"year":2025,"month":7,"date":1}],
                             "labelExpr": "month(datum.value) == 0 ? timeFormat(datum.value, '%Y') : ''", "tickSize": 4, "labelPadding": 2, "labelOverlap": false, "labelFlush": false,
                             "title": "Source: J.P. Morgan", "titleX": -24, "titleAlign": "left", "titleAnchor": "start", "titlePadding": 6}},
              "y": {"field": "value", "type": "quantitative", "scale": {"domain": [-8, 16]},
                    "axis": {"values": [-8,-4,0,4,8,12,16], "tickSize": 3, "labelPadding": 10, "labelOverlap": false, "labelFlush": false, "title": null}},
              "text": {"field": "label"}
            }}
         ]},
        {"width": 324, "height": 132,
         "title": {"text": "Central bank policy rates", "subtitle": "% p.a.", "dx": -18, "offset": -9},
         "layer": [
           {"data": {"name": "band"}, "mark": {"type": "rect", "color": "#bfbfbf"},
            "encoding": {
              "x": {"field": "date", "type": "temporal", "scale": {"domain": ["2017-01-01", "2026-01-01"]},
                    "axis": {"values": [{"year":2017,"month":1,"date":1},{"year":2018,"month":1,"date":1},{"year":2019,"month":1,"date":1},{"year":2020,"month":1,"date":1},{"year":2021,"month":1,"date":1},{"year":2022,"month":1,"date":1},{"year":2023,"month":1,"date":1},{"year":2024,"month":1,"date":1},{"year":2025,"month":1,"date":1},{"year":2026,"month":1,"date":1}],
                             "labelExpr": "year(datum.value) < 2026 ? timeFormat(datum.value, '%Y') : ''", "tickSize": 4, "labelPadding": 2, "labelOverlap": false, "labelFlush": false,
                             "title": "Source: J.P. Morgan", "titleX": -18, "titleAlign": "left", "titleAnchor": "start", "titlePadding": 6}},
              "x2": {"field": "end"}
            }},
           {"data": {"name": "rates"}, "mark": {"type": "line", "clip": true},
            "encoding": {
              "x": {"field": "date", "type": "temporal", "scale": {"domain": ["2017-01-01", "2026-01-01"]},
                    "axis": {"values": [{"year":2017,"month":1,"date":1},{"year":2018,"month":1,"date":1},{"year":2019,"month":1,"date":1},{"year":2020,"month":1,"date":1},{"year":2021,"month":1,"date":1},{"year":2022,"month":1,"date":1},{"year":2023,"month":1,"date":1},{"year":2024,"month":1,"date":1},{"year":2025,"month":1,"date":1},{"year":2026,"month":1,"date":1}],
                             "labelExpr": "year(datum.value) < 2026 ? timeFormat(datum.value, '%Y') : ''", "tickSize": 4, "labelPadding": 2, "labelOverlap": false, "labelFlush": false,
                             "title": "Source: J.P. Morgan", "titleX": -18, "titleAlign": "left", "titleAnchor": "start", "titlePadding": 6}},
              "y": {"field": "value", "type": "quantitative", "scale": {"domain": [-1, 6]},
                    "axis": {"values": [-1,0,1,2,3,4,5,6], "tickSize": 3, "labelPadding": 2, "labelOverlap": false, "labelFlush": false, "title": null}},
              "color": {"field": "series", "type": "nominal", "scale": {"domain": ["US","UK","Canada","Euro area","Sweden"], "range": ["#203e73","#203e73","#203e73","#f79646","#f79646"]},
                        "legend": {"orient": "none", "legendX": 21, "legendY": -15, "columns": 2, "columnPadding": 32, "title": null, "symbolType": "stroke", "symbolSize": 1225, "clipHeight": 14, "rowPadding": 0.5, "labelFontSize": 10.5, "labelFontWeight": "bold", "labelOffset": 7, "padding": 0}},
              "strokeDash": {"field": "series", "type": "nominal", "scale": {"domain": ["US","UK","Canada","Euro area","Sweden"], "range": [[1,0],[3.5,2.5],[10,5],[1,0],[3.5,2.5]]},
                        "legend": {"orient": "none", "legendX": 21, "legendY": -15, "columns": 2, "columnPadding": 32, "title": null, "symbolType": "stroke", "symbolSize": 1225, "clipHeight": 14, "rowPadding": 0.5, "labelFontSize": 10.5, "labelFontWeight": "bold", "labelOffset": 7, "padding": 0}},
              "strokeWidth": {"field": "series", "type": "nominal", "scale": {"domain": ["US","UK","Canada","Euro area","Sweden"], "range": [2.0, 1.6, 1.8, 2.0, 1.6]},
                        "legend": {"orient": "none", "legendX": 21, "legendY": -15, "columns": 2, "columnPadding": 32, "title": null, "symbolType": "stroke", "symbolSize": 1225, "clipHeight": 14, "rowPadding": 0.5, "labelFontSize": 10.5, "labelFontWeight": "bold", "labelOffset": 7, "padding": 0}}
            }},
           {"data": {"name": "fcLab"}, "mark": {"type": "text", "fontWeight": "bold", "fontSize": 10.5, "color": "#000", "baseline": "bottom", "dy": -17, "lineHeight": 12},
            "encoding": {
              "x": {"field": "date", "type": "temporal", "scale": {"domain": ["2017-01-01", "2026-01-01"]},
                    "axis": {"values": [{"year":2017,"month":1,"date":1},{"year":2018,"month":1,"date":1},{"year":2019,"month":1,"date":1},{"year":2020,"month":1,"date":1},{"year":2021,"month":1,"date":1},{"year":2022,"month":1,"date":1},{"year":2023,"month":1,"date":1},{"year":2024,"month":1,"date":1},{"year":2025,"month":1,"date":1},{"year":2026,"month":1,"date":1}],
                             "labelExpr": "year(datum.value) < 2026 ? timeFormat(datum.value, '%Y') : ''", "tickSize": 4, "labelPadding": 2, "labelOverlap": false, "labelFlush": false,
                             "title": "Source: J.P. Morgan", "titleX": -18, "titleAlign": "left", "titleAnchor": "start", "titlePadding": 6}},
              "y": {"field": "value", "type": "quantitative", "scale": {"domain": [-1, 6]},
                    "axis": {"values": [-1,0,1,2,3,4,5,6], "tickSize": 3, "labelPadding": 2, "labelOverlap": false, "labelFlush": false, "title": null}},
              "text": {"field": "label"}
            }}
         ]}
      ]}
    ]}
  ]},
  {"width": 759, "height": 38, "data": {"values": [{"logo": "J.P.Morgan"}]},
   "mark": {"type": "text", "align": "right", "baseline": "bottom", "font": "Liberation Serif", "fontSize": 18, "color": "#666"},
   "encoding": {"text": {"field": "logo"}, "x": {"value": "width"}, "y": {"value": "height"}}}
]
}
